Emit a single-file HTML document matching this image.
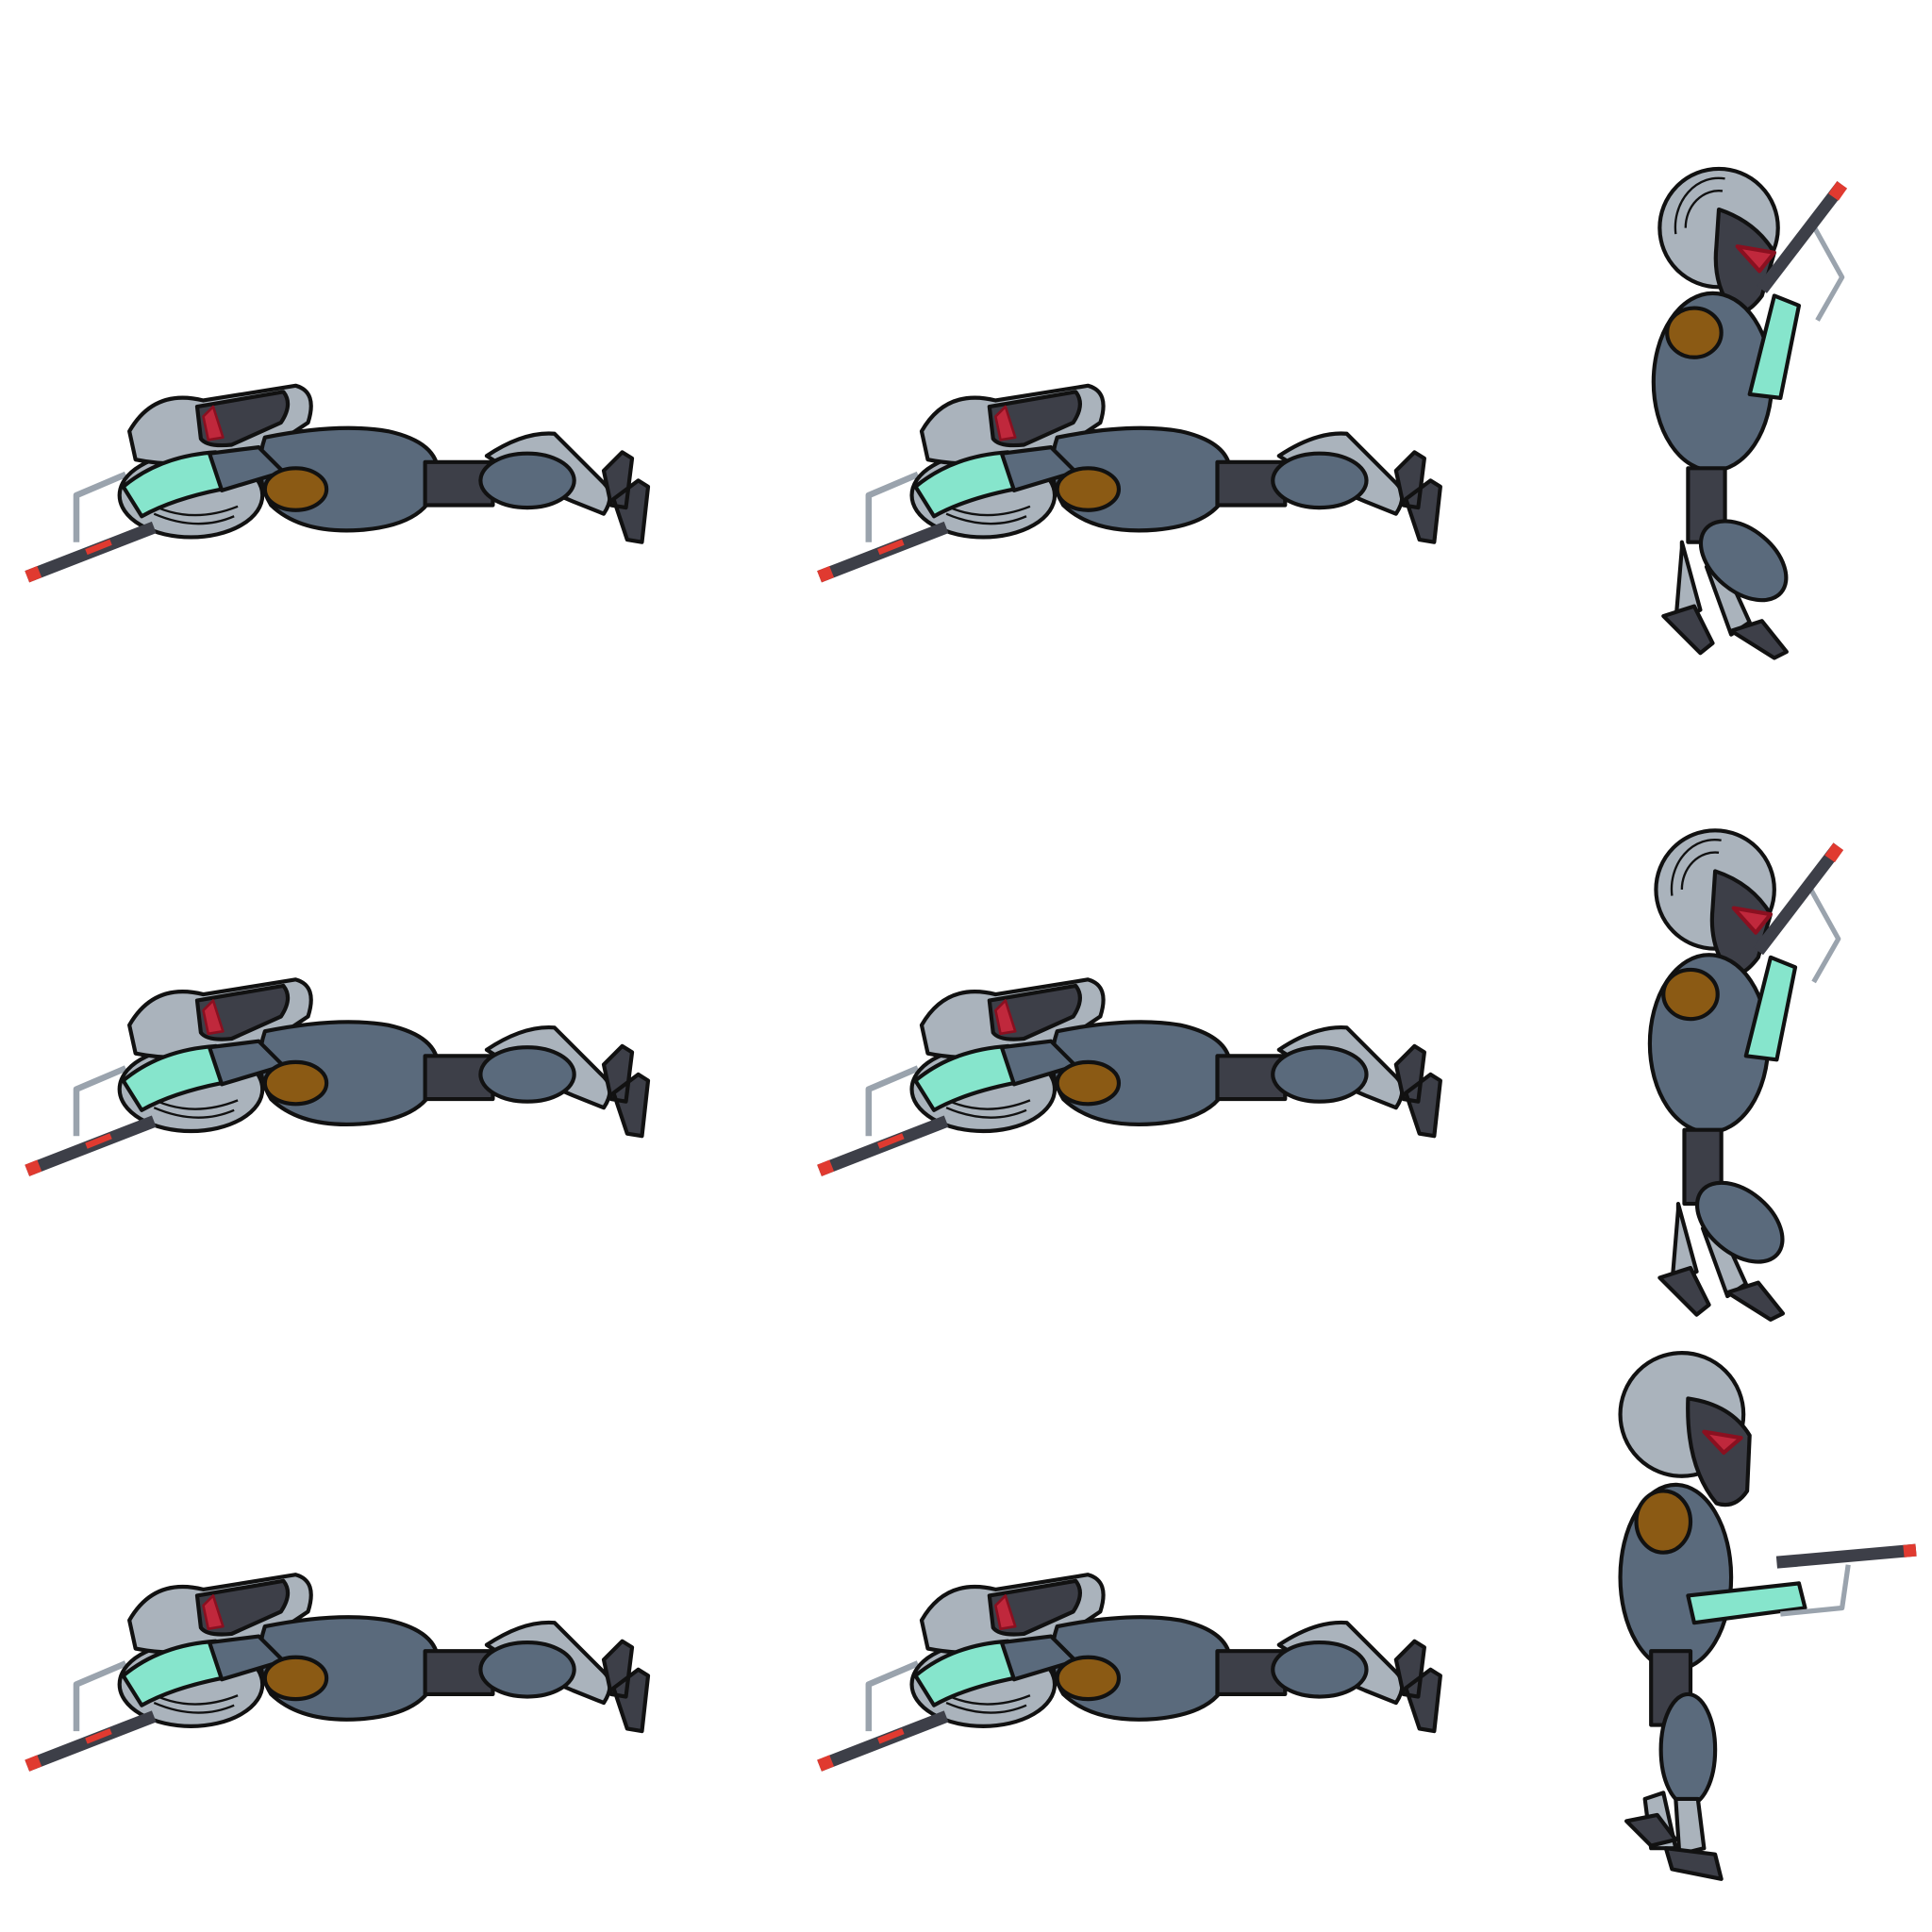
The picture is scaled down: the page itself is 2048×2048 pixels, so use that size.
<!DOCTYPE html>
<html><head><meta charset="utf-8"><style>
html,body{margin:0;padding:0;background:#fff;width:2048px;height:2048px;overflow:hidden}
svg{display:block}
</style></head><body>
<svg width="2048" height="2048" viewBox="0 0 1568 1568" xmlns="http://www.w3.org/2000/svg">
<defs>
<g id="prone" stroke="#111" stroke-width="3.2" stroke-linejoin="round">
  <polyline points="62,440 62,402 102,385" fill="none" stroke="#9aa3ad" stroke-width="5"/>
  <ellipse cx="155" cy="402" rx="58" ry="34" fill="#aab3bc"/>
  <path d="M118,407 q35,20 75,4 M125,417 q35,15 65,2" fill="none" stroke-width="1.8"/>
  <path d="M105,350 q20,-35 60,-25 l75,-12 q18,5 10,30 l-30,20 q-60,20 -110,10z" fill="#aab3bc"/>
  <path d="M160,330 l70,-12 q8,10 -2,25 l-40,18 q-20,2 -25,-5z" fill="#3d3f48"/>
  <path d="M165,338 l8,-8 l8,25 l-12,2z" fill="#c0283c" stroke="#8a1020" stroke-width="2"/>
  <path d="M215,355 q60,-12 100,-5 q45,10 40,40 q-5,35 -60,40 q-50,4 -75,-20 q-15,-25 -5,-55z" fill="#5a6a7c"/>
  <rect x="345" y="375" width="55" height="35" fill="#3d3f48"/>
  <path d="M395,370 q30,-20 55,-18 l40,40 q10,10 0,25 l-25,-10 l-35,-15z" fill="#aab3bc"/>
  <ellipse cx="428" cy="390" rx="38" ry="22" fill="#5a6a7c"/>
  <path d="M490,382 l15,-15 l8,5 l-5,40 l-12,-2z M498,405 l20,-15 l8,5 l-5,45 l-12,-2z" fill="#3d3f48"/>
  <path d="M100,395 q30,-25 75,-28 l5,30 q-40,8 -65,22z" fill="#86e5cc"/>
  <path d="M170,368 l40,-5 l20,20 l-50,15z" fill="#5a6a7c"/>
  <ellipse cx="240" cy="397" rx="25" ry="17" fill="#8b5a14"/>
  <path d="M22,468 L125,428" stroke="#3d3f48" stroke-width="10" stroke-linecap="butt"/>
  <path d="M22,468 L32,464" stroke="#e03a30" stroke-width="10"/>
  <path d="M70,448 L90,440" stroke="#e03a30" stroke-width="5"/>
</g>
<g id="stand" stroke="#111" stroke-width="3.2" stroke-linejoin="round">
  <circle cx="1395" cy="185" r="48" fill="#aab3bc"/>
  <path d="M1368,185 a27,30 0 0 1 30,-30 M1360,190 a35,40 0 0 1 40,-45" fill="none" stroke-width="1.8"/>
  <path d="M1395,170 q30,10 45,35 l-10,35 q-15,20 -25,10 q-15,-20 -12,-50z" fill="#3d3f48"/>
  <path d="M1410,200 l30,5 l-12,15 z" fill="#c0283c" stroke="#8a1020"/>
  <ellipse cx="1390" cy="310" rx="48" ry="72" fill="#5a6a7c"/>
  <rect x="1370" y="380" width="30" height="60" fill="#3d3f48"/>
  <path d="M1365,440 l15,55 l-20,10 l5,-60z M1395,450 l25,55 l-15,10 l-20,-55z" fill="#aab3bc"/>
  <ellipse cx="1415" cy="455" rx="40" ry="25" transform="rotate(40 1415 455)" fill="#5a6a7c"/>
  <path d="M1350,500 l25,-8 l15,30 l-10,8z M1405,512 l25,-8 l20,25 l-10,5z" fill="#3d3f48"/>
  <ellipse cx="1375" cy="270" rx="22" ry="20" fill="#8b5a14"/>
  <path d="M1420,320 l20,-80 l20,8 l-15,75z" fill="#86e5cc"/>
  <polyline points="1470,180 1495,225 1475,260" fill="none" stroke="#9aa3ad" stroke-width="4"/>
  <path d="M1430,235 L1495,150" stroke="#3d3f48" stroke-width="10"/>
  <path d="M1488,160 L1495,150" stroke="#e03a30" stroke-width="10"/>
</g>
</defs>
<use href="#prone"/>
<use href="#prone" x="643"/>
<use href="#prone" y="482"/>
<use href="#prone" x="643" y="482"/>
<use href="#prone" y="965"/>
<use href="#prone" x="643" y="965"/>
<use href="#stand"/>
<use href="#stand" x="-3" y="537"/>
<g stroke="#111" stroke-width="3.2" stroke-linejoin="round">
  <circle cx="1365" cy="1148" r="50" fill="#aab3bc"/>
  <path d="M1370,1135 q35,5 50,30 l-2,45 q-10,15 -25,10 q-25,-30 -23,-85z" fill="#3d3f48"/>
  <path d="M1383,1162 l30,5 l-14,12z" fill="#c0283c" stroke="#8a1020"/>
  <ellipse cx="1360" cy="1280" rx="45" ry="75" fill="#5a6a7c"/>
  <rect x="1340" y="1340" width="32" height="60" fill="#3d3f48"/>
  <ellipse cx="1370" cy="1420" rx="22" ry="45" fill="#5a6a7c"/>
  <path d="M1335,1460 l15,-5 l10,45 l-20,0z M1360,1460 l18,0 l5,40 l-20,5z" fill="#aab3bc"/>
  <path d="M1320,1478 l25,-5 l15,20 l-20,5z M1352,1500 l40,5 l5,20 l-40,-8z" fill="#3d3f48"/>
  <ellipse cx="1350" cy="1235" rx="22" ry="25" fill="#8b5a14"/>
  <path d="M1370,1295 l90,-10 l5,20 l-90,12z" fill="#86e5cc"/>
  <polyline points="1445,1310 1495,1305 1500,1270" fill="none" stroke="#9aa3ad" stroke-width="4"/>
  <path d="M1442,1268 L1555,1258" stroke="#3d3f48" stroke-width="10"/>
  <path d="M1545,1259 L1555,1258" stroke="#e03a30" stroke-width="10"/>
</g>
</svg>
</body></html>
